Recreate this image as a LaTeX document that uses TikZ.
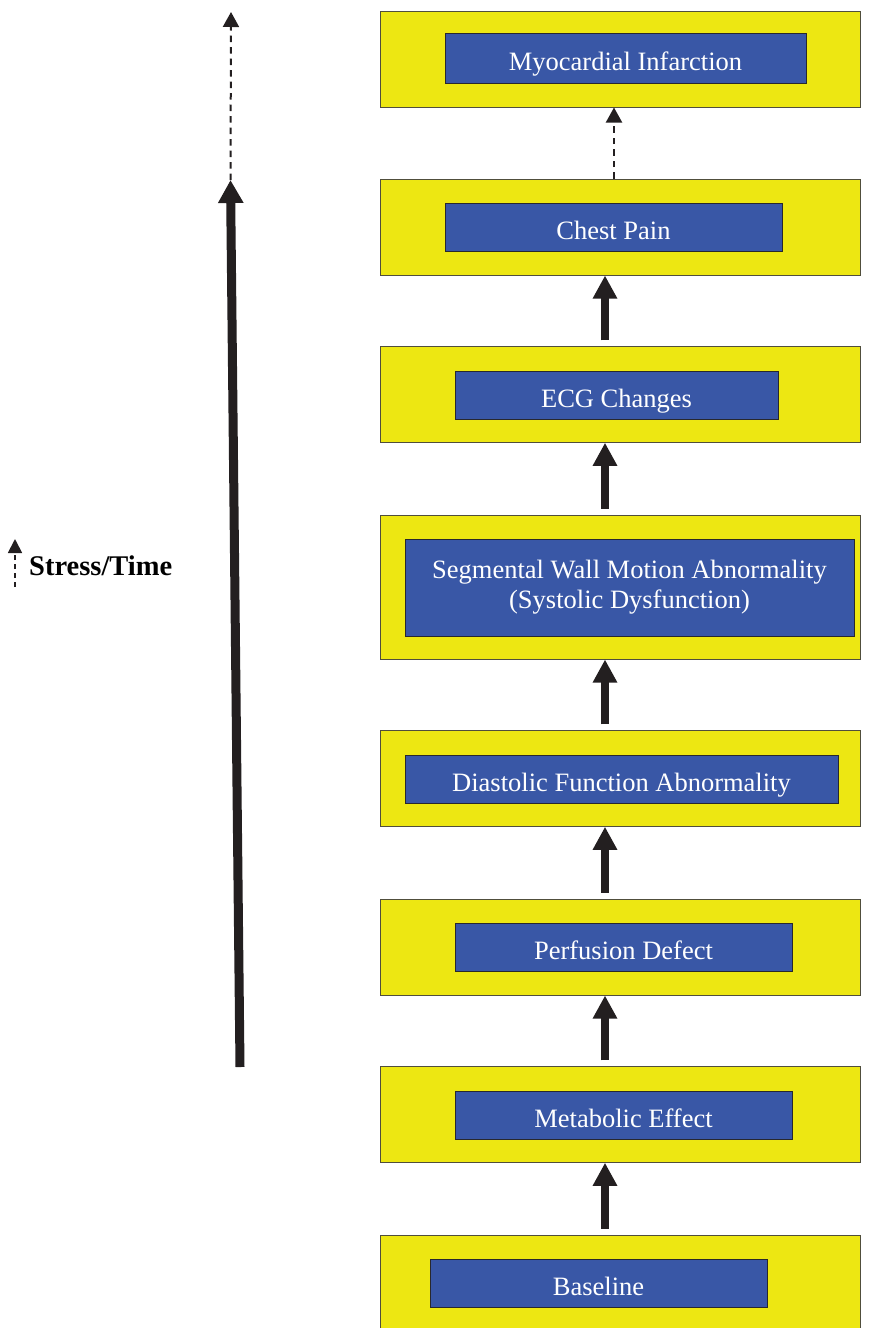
\documentclass[tikz,border=0pt]{standalone}
\usepackage{fontspec}
\setmainfont{Liberation Serif}
\usetikzlibrary{arrows.meta}

\definecolor{stageyellow}{RGB}{237,231,18}
\definecolor{stageblue}{RGB}{57,87,166}
\definecolor{yellowedge}{RGB}{80,78,60}
\definecolor{blueedge}{RGB}{40,40,45}
\definecolor{arrowink}{RGB}{35,31,32}

\begin{document}
\begin{tikzpicture}[x=1pt,y=-1pt,
  outerbox/.style={draw=yellowedge, line width=1pt, fill=stageyellow,
    rectangle, inner sep=0pt, minimum width=480.5pt, minimum height=95.5pt},
  innerbox/.style={draw=blueedge, line width=1pt, fill=stageblue,
    rectangle, inner sep=0pt, minimum height=48pt, text=white,
    font=\fontsize{26.5}{30}\selectfont, text height=24pt, text depth=0pt,
    align=center},
  stagearrow/.style={draw=arrowink, line width=8pt,
    -{Triangle[width=23pt,length=23pt]}, arrowink},
  timearrow/.style={draw=arrowink, line width=9pt,
    -{Triangle[width=24pt,length=23pt]}, arrowink},
  dasharrow/.style={draw=arrowink, line width=2pt, dash pattern=on 6.5pt off 5pt,
    -{Triangle[width=16pt,length=15pt]}, arrowink},
  legendarrow/.style={draw=arrowink, line width=1.8pt, dash pattern=on 5pt off 4pt,
    -{Triangle[width=14pt,length=14pt]}, arrowink},
]
\useasboundingbox (0,0) rectangle (873,1328);

% outer stage panels, top to bottom
\node[outerbox, minimum height=96pt]  (y1) at (620.5,59)    {};
\node[outerbox, minimum height=96pt]  (y2) at (620.5,227)   {};
\node[outerbox]                       (y3) at (620.5,394.5) {};
\node[outerbox, minimum height=144pt] (y4) at (620.5,587)   {};
\node[outerbox]                       (y5) at (620.5,778.5) {};
\node[outerbox, minimum height=96pt]  (y6) at (620.5,947)   {};
\node[outerbox]                       (y7) at (620.5,1114.5){};
\node[outerbox, minimum height=96pt]  (y8) at (620.5,1283)  {};

% labelled stage boxes
\node[innerbox, minimum width=361pt, minimum height=50pt] (b1) at (625.5,58) {Myocardial Infarction};
\node[innerbox, minimum width=337pt] (b2) at (613.5,227)  {Chest Pain};
\node[innerbox, minimum width=323pt] (b3) at (616.5,395)  {ECG Changes};
\node[innerbox, minimum width=449pt, minimum height=97pt, text height={}, text depth={}]
  (b4) at (629.5,587.5) {\raisebox{0pt}[0pt][0pt]{}Segmental Wall Motion Abnormality\\(Systolic Dysfunction)};
\node[innerbox, minimum width=433pt] (b5) at (621.5,779)  {Diastolic Function Abnormality};
\node[innerbox, minimum width=337pt] (b6) at (623.5,947)  {Perfusion Defect};
\node[innerbox, minimum width=337pt] (b7) at (623.5,1115) {Metabolic Effect};
\node[innerbox, minimum width=337pt] (b8) at (598.5,1283) {Baseline};

% progression arrows between stages
\foreach \lo/\hi in {y8/y7, y7/y6, y6/y5, y5/y4, y4/y3, y3/y2}
  \draw[stagearrow] ([xshift=-15.5pt,yshift=6pt]\lo.north) -- ([xshift=-15.5pt]\hi.south);
\draw[dasharrow] ([xshift=-6.5pt]y2.north) -- ([xshift=-6.5pt]y1.south);

% stress / time axis
\coordinate (tbase) at (240,1067);
\coordinate (ttip)  at (230.5,180);
\coordinate (tend)  at (231,12);
\draw[timearrow] (tbase) -- (ttip);
\draw[dasharrow] (ttip) -- (tend);

% legend
\coordinate (lbase) at (15,587);
\coordinate (ltip)  at (15,539);
\draw[legendarrow] (lbase) -- (ltip);
\node[anchor=base west, inner sep=0pt, font=\fontsize{28.5}{32}\selectfont\bfseries]
  (legend) at (29,575) {Stress/Time};
\end{tikzpicture}
\end{document}
